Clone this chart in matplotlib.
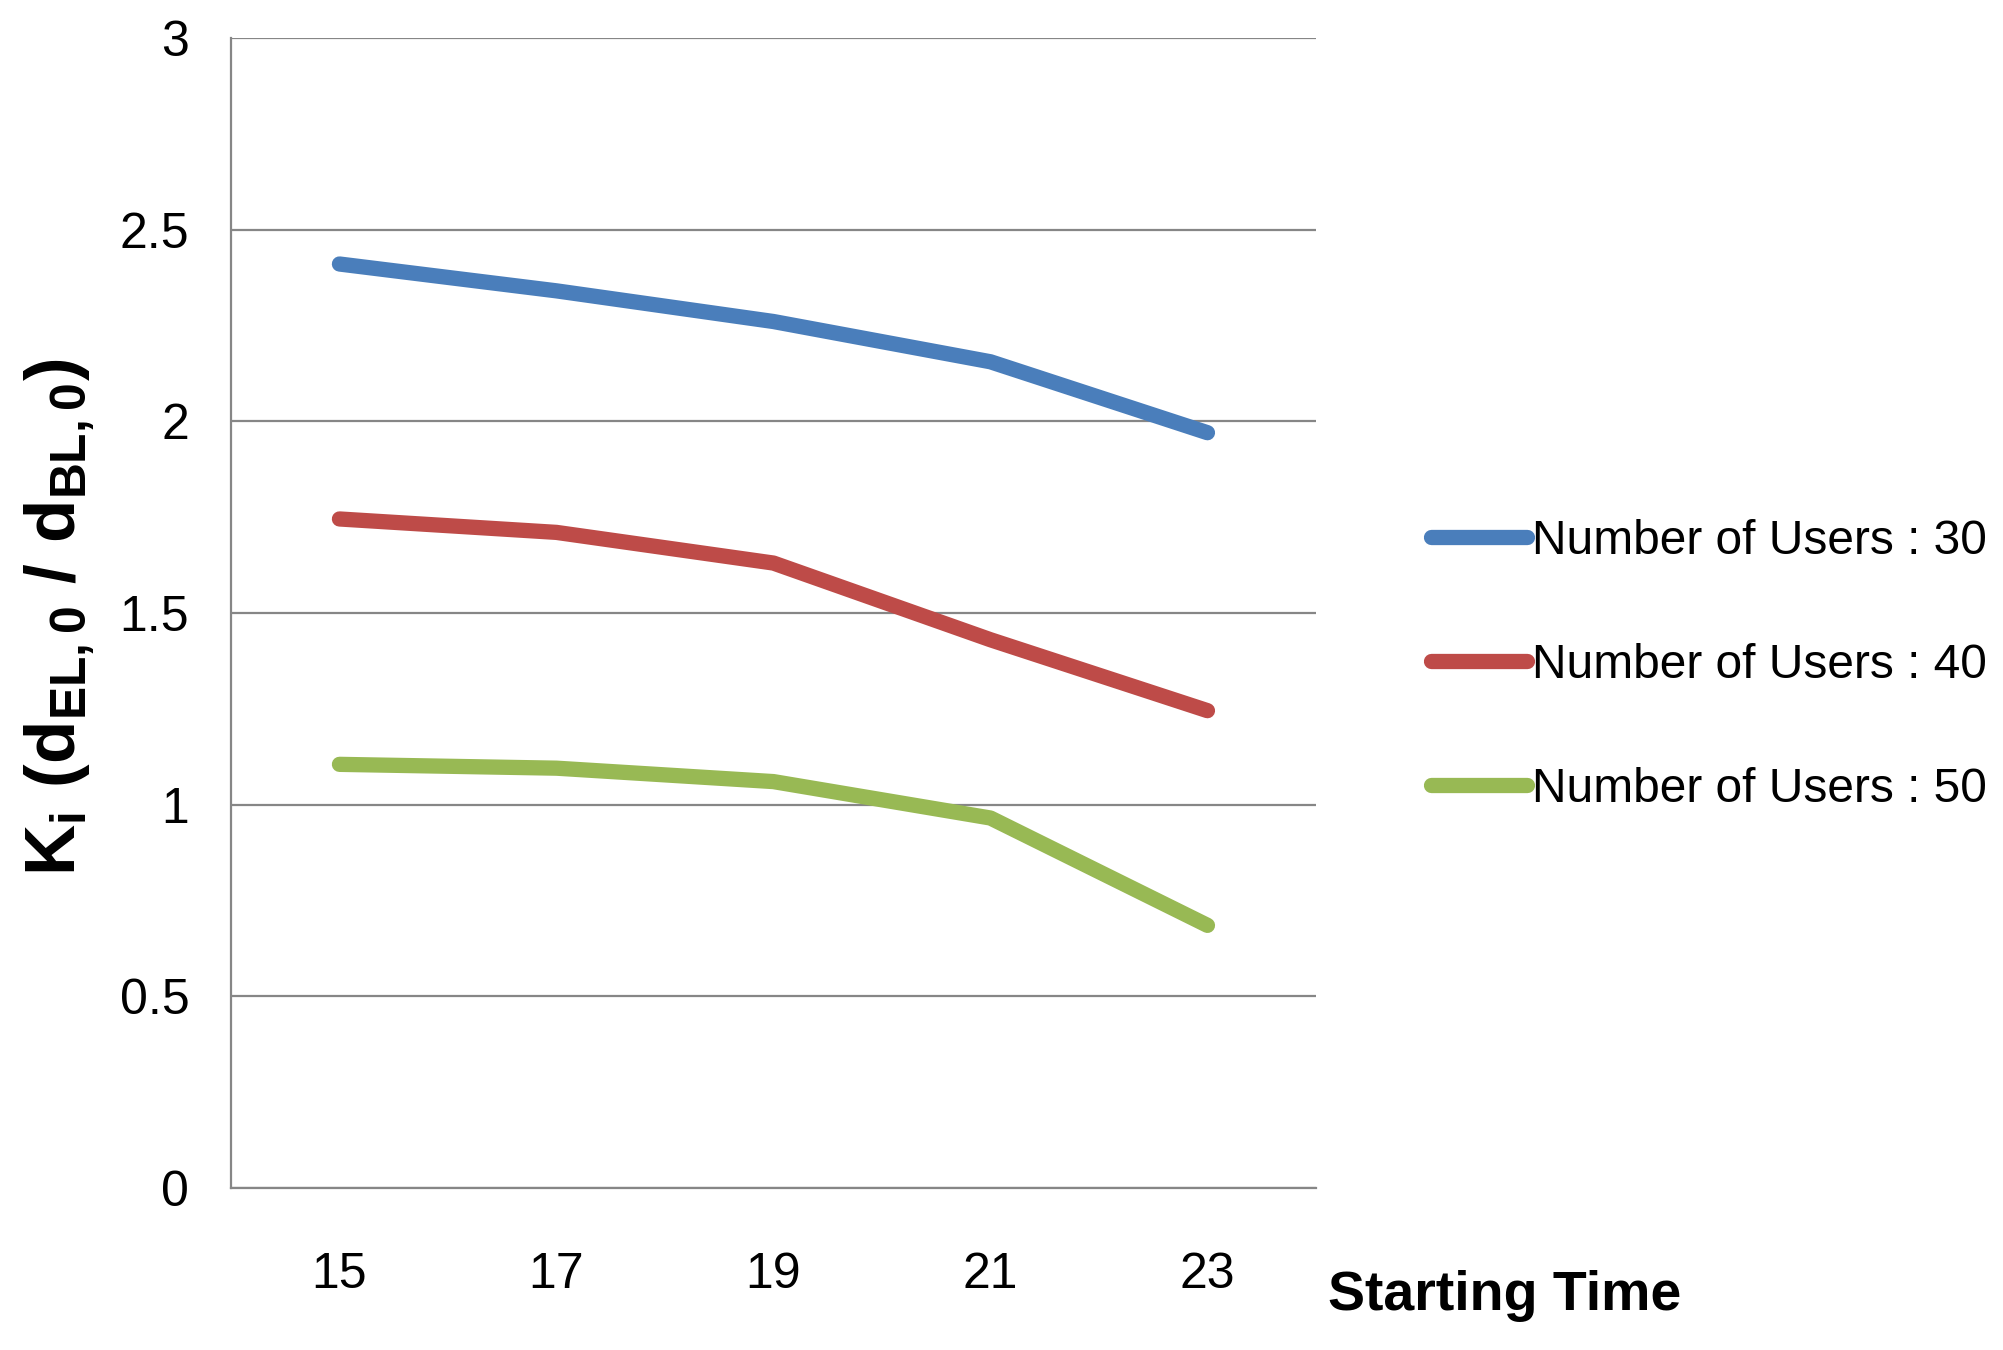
import matplotlib
matplotlib.use("Agg")
import matplotlib.pyplot as plt
from matplotlib import font_manager

# chart data
starting_times = ["15", "17", "19", "21", "23"]
users_30 = [2.41, 2.34, 2.26, 2.155, 1.97]
users_40 = [1.745, 1.71, 1.63, 1.43, 1.245]
users_50 = [1.105, 1.095, 1.06, 0.965, 0.685]
series_labels = ["Number of Users : 30", "Number of Users : 40", "Number of Users : 50"]
series_colors = ["#4A7EBB", "#BE4B48", "#98B954"]
y_ticks = [0, 0.5, 1, 1.5, 2, 2.5, 3]
y_tick_labels = ["0", "0.5", "1", "1.5", "2", "2.5", "3"]

installed = {f.name for f in font_manager.fontManager.ttflist}
family = "Liberation Sans Narrow" if "Liberation Sans Narrow" in installed else "Liberation Sans"
plt.rcParams["font.family"] = [family, "DejaVu Sans"]
plt.rcParams["mathtext.fontset"] = "custom"
plt.rcParams["mathtext.rm"] = family
plt.rcParams["mathtext.bf"] = family + ":bold"
plt.rcParams["mathtext.it"] = family + ":bold"

fig = plt.figure(figsize=(20.03, 13.5), dpi=100)
ax = fig.add_axes([0.1153, 0.12, 0.5417, 0.852])

for vals, lab, col in zip([users_30, users_40, users_50], series_labels, series_colors):
    ax.plot(starting_times, vals, color=col, lw=11, label=lab, solid_capstyle="round")

ax.set_xlim(-0.5, len(starting_times) - 0.5)
ax.set_ylim(0, 3)
ax.set_yticks(y_ticks)
ax.set_yticklabels(y_tick_labels)
ax.yaxis.grid(True, color="#868686", lw=1.6)
ax.set_axisbelow(True)

for side in ["top", "right"]:
    ax.spines[side].set_visible(False)
for side in ["left", "bottom"]:
    ax.spines[side].set_color("#868686")
    ax.spines[side].set_linewidth(1.6)

ax.tick_params(axis="both", length=0, labelsize=36, colors="#000000")
ax.tick_params(axis="x", pad=46)
ax.tick_params(axis="y", pad=30)

fig.text(0.663, 0.040, "Starting Time", fontsize=40, fontweight="bold", ha="left", va="center")
fig.text(0.030, 0.543, r"$\mathbf{K_i\ (d_{EL,0}\ /\ d_{BL,0})}$", fontsize=51,
         rotation=90, ha="center", va="center")

ax.legend(loc="center left", bbox_to_anchor=(0.693, 0.507), bbox_transform=fig.transFigure,
          frameon=False, fontsize=34.5, handlelength=2.0, handletextpad=0.1,
          labelspacing=1.65)

fig.savefig("out.png", dpi=100)
